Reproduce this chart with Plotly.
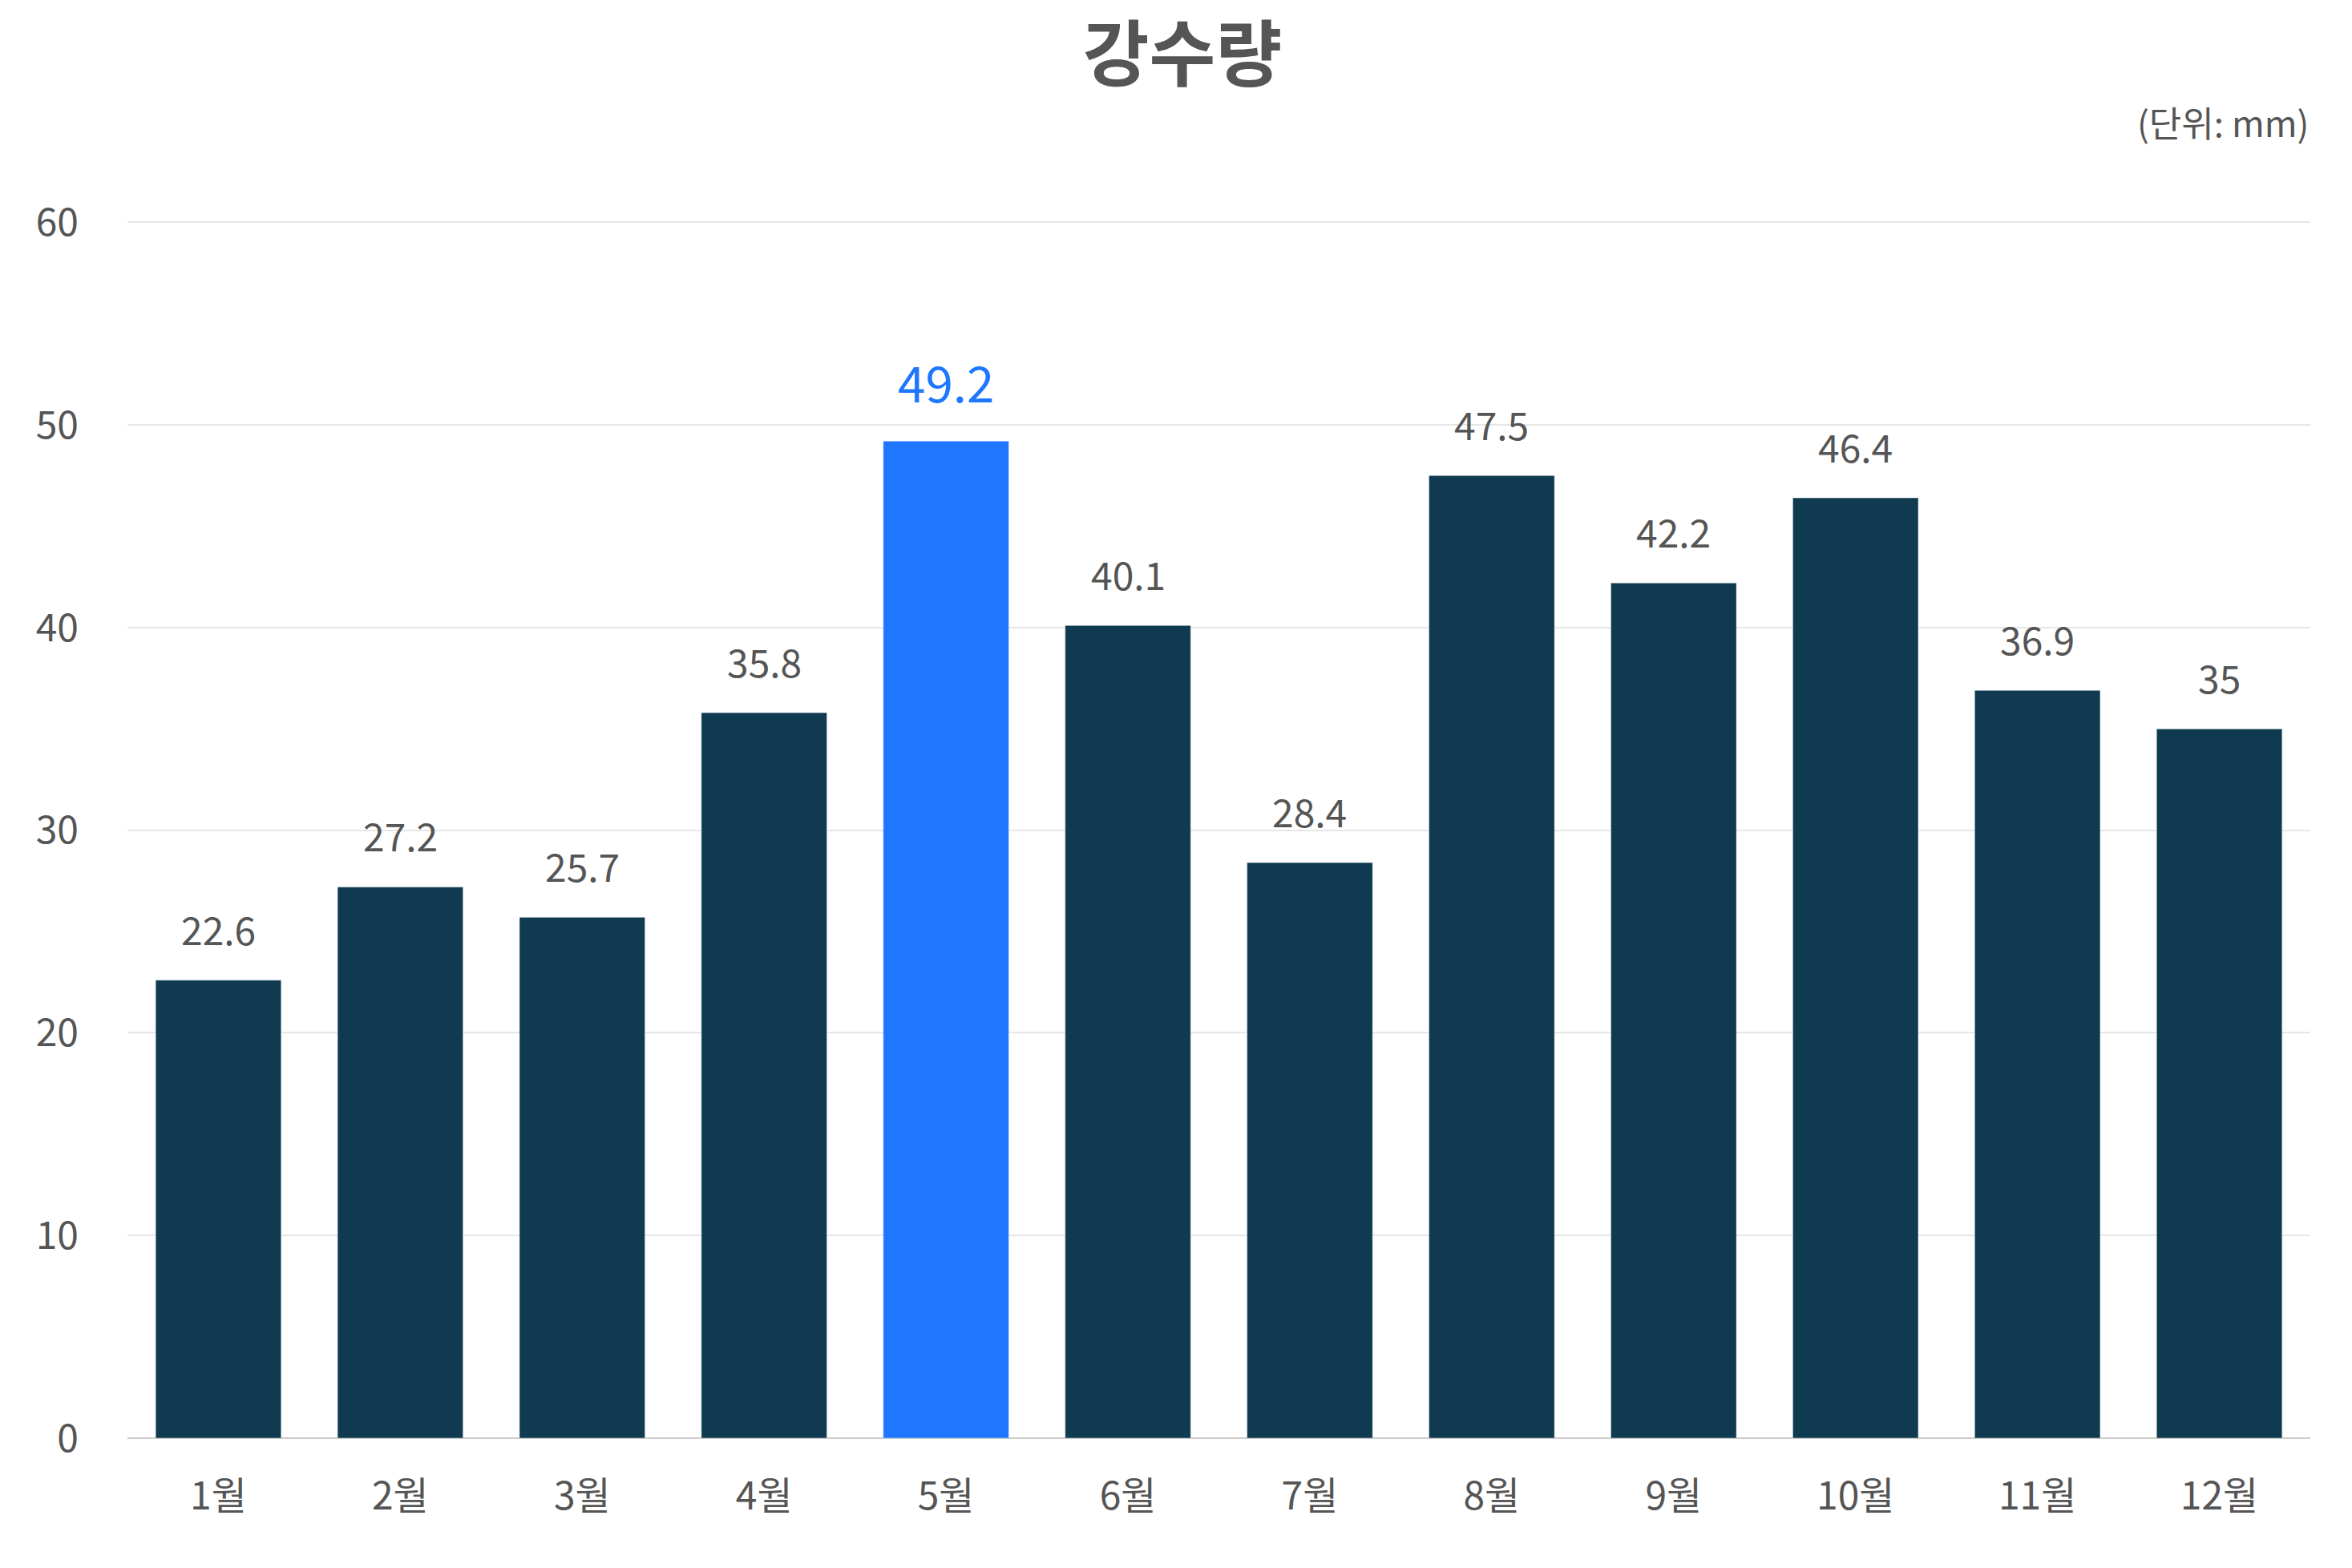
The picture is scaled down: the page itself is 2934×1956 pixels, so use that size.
import plotly.graph_objects as go

months = ["1월", "2월", "3월", "4월", "5월", "6월", "7월", "8월", "9월", "10월", "11월", "12월"]
rain = [22.6, 27.2, 25.7, 35.8, 49.2, 40.1, 28.4, 47.5, 42.2, 46.4, 36.9, 35]
highlight = "5월"

W, H = 2934, 1956
FONT = "Noto Sans CJK KR"

colors = ["#1f77ff" if m == highlight else "#0f3a4f" for m in months]

fig = go.Figure(
    go.Bar(
        x=months,
        y=rain,
        marker_color=colors,
        hoverinfo="x+y",
    )
)

# value labels above the bars, lifted a bit higher than plotly's default
annotations = []
for m, v in zip(months, rain):
    hl = m == highlight
    annotations.append(
        dict(
            x=m,
            y=v,
            text=f"{v:g}",
            showarrow=False,
            yanchor="bottom",
            yshift=28,
            font=dict(
                family=FONT,
                size=62 if hl else 48,
                color="#1f77ff" if hl else "#555555",
            ),
        )
    )
annotations.append(
    dict(
        text="(단위: mm)",
        xref="paper",
        yref="paper",
        x=1.0,
        xanchor="right",
        y=1.0,
        yshift=90,
        yanchor="bottom",
        showarrow=False,
        font=dict(family=FONT, size=44, color="#555555"),
    )
)

fig.update_layout(
    width=W,
    height=H,
    margin=dict(l=151, r=60, t=268, b=170),
    paper_bgcolor="white",
    plot_bgcolor="white",
    bargap=0.31,
    showlegend=False,
    font=dict(family=FONT, color="#555555"),
    title=dict(
        text="<b>강수량</b>",
        x=0.5,
        xanchor="center",
        y=0.985,
        yanchor="top",
        font=dict(family=FONT, size=90, color="#555555"),
    ),
    annotations=annotations,
)

fig.update_yaxes(
    range=[0, 60.05],
    tickvals=[0, 10, 20, 30, 40, 50, 60],
    showgrid=True,
    gridcolor="#e6e6e6",
    gridwidth=2,
    zeroline=True,
    zerolinecolor="#cccccc",
    zerolinewidth=2,
    tickfont=dict(family=FONT, size=48, color="#555555"),
    ticklabelstandoff=60,
)
fig.update_xaxes(
    tickfont=dict(family=FONT, size=48, color="#555555"),
    ticklabelstandoff=40,
)

fig.write_html("out.html")
